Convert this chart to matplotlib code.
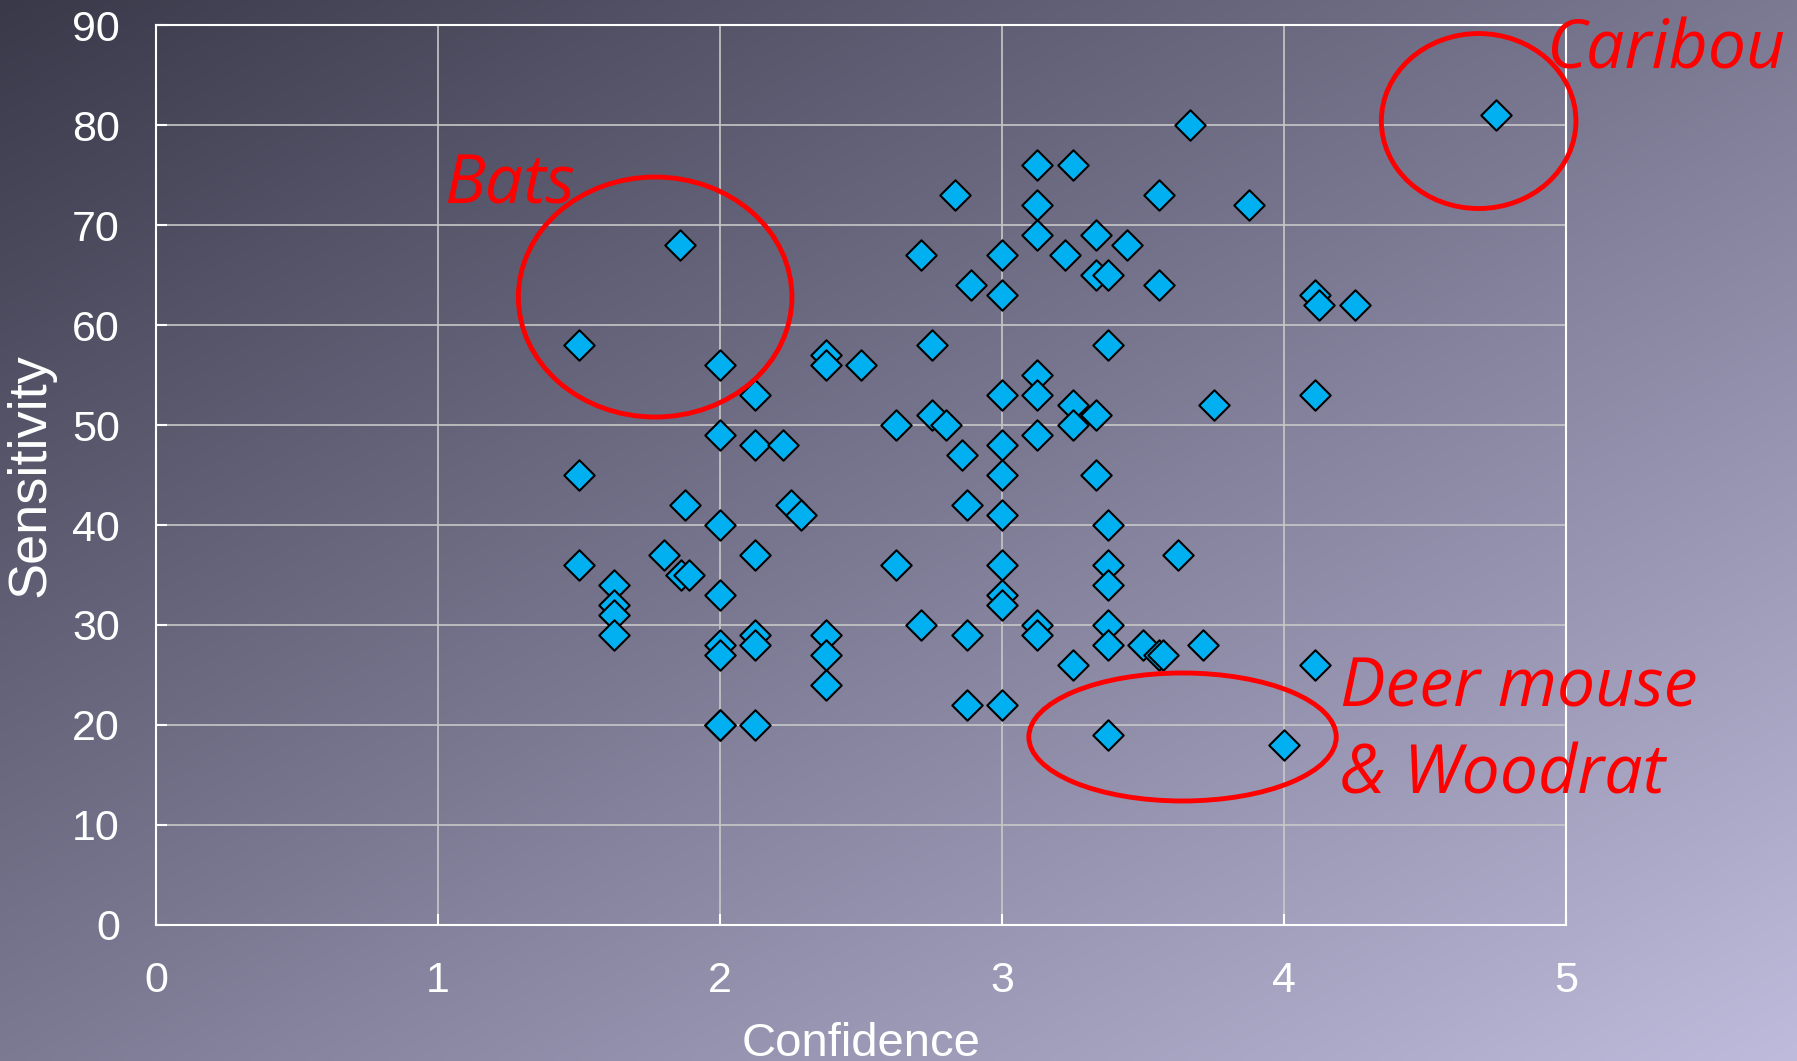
#Sensitivity vs confidence scatter with the red callouts
#values

import numpy as np
import matplotlib.pyplot as plt
from matplotlib.patches import Ellipse

#data points (confidence, sensitivity)
confidence = [1.5, 1.5, 1.5, 1.625, 1.625, 1.625, 1.625, 1.8, 1.857, 1.875,
              1.86, 1.89, 2.0, 2.0, 2.0, 2.0, 2.0, 2.0, 2.0, 2.0,
              2.125, 2.125, 2.125, 2.125, 2.125, 2.125, 2.222, 2.25, 2.286, 2.375,
              2.375, 2.375, 2.375, 2.375, 2.5, 2.625, 2.625, 2.714, 2.714, 2.75,
              2.75, 2.8, 2.833, 2.857, 2.875, 2.875, 2.875, 2.889, 3.0, 3.0,
              3.0, 3.0, 3.0, 3.0, 3.0, 3.0, 3.0, 3.0, 3.125, 3.125,
              3.125, 3.125, 3.125, 3.125, 3.125, 3.125, 3.222, 3.25, 3.25, 3.25,
              3.25, 3.333, 3.333, 3.333, 3.333, 3.375, 3.375, 3.375, 3.375, 3.375,
              3.375, 3.375, 3.375, 3.444, 3.5, 3.556, 3.556, 3.556, 3.57, 3.625,
              3.667, 3.714, 3.75, 3.875, 4.0, 4.111, 4.125, 4.111, 4.111, 4.25,
              4.75]
sensitivity = [58, 45, 36, 34, 32, 31, 29, 37, 68, 42,
               35, 35, 56, 49, 40, 33, 28, 27, 20, 20,
               53, 48, 37, 29, 28, 20, 48, 42, 41, 57,
               56, 29, 27, 24, 56, 50, 36, 67, 30, 58,
               51, 50, 73, 47, 42, 29, 22, 64, 67, 63,
               53, 48, 45, 41, 36, 33, 32, 22, 76, 72,
               69, 55, 53, 49, 30, 29, 67, 76, 52, 50,
               26, 69, 65, 51, 45, 65, 58, 40, 36, 34,
               30, 28, 19, 68, 28, 73, 64, 27, 27, 37,
               80, 28, 52, 72, 18, 63, 62, 53, 26, 62,
               81]

#callout labels and circles (center x, center y, width, height)
labels = ['Bats', 'Caribou', 'Deer mouse', '& Woodrat']
label_xy = [(1.02, 72.2), (4.93, 85.7), (4.2, 21.8), (4.2, 13.1)]
circles = [(1.77, 62.8, 0.97, 24.0), (4.69, 80.4, 0.69, 17.5), (3.64, 18.8, 1.09, 12.8)]

plt.rcParams['font.family'] = ['Liberation Sans', 'DejaVu Sans']

fig = plt.figure(figsize=(17.97, 10.61), dpi=100)

#diagonal gradient background over the whole slide
bg = fig.add_axes([0, 0, 1, 1], zorder=-10)
u = np.linspace(0, 1, 400)
v = np.linspace(0, 1, 240)
U, V = np.meshgrid(u, v)
t = (U + V) / 2
dark = np.array([0x3a, 0x39, 0x4a]) / 255
light = np.array([0xbe, 0xbb, 0xdc]) / 255
img = dark[None, None, :] * (1 - t[..., None]) + light[None, None, :] * t[..., None]
bg.imshow(img, aspect='auto', extent=[0, 1, 0, 1], interpolation='bilinear')
bg.axis('off')

ax = fig.add_axes([0.0868, 0.1282, 0.7847, 0.8482])
ax.patch.set_alpha(0)

ax.scatter(confidence, sensitivity, marker='D', s=240, c='#00b0f0',
           edgecolors='black', linewidths=1.5, zorder=3)

#red circles and italic text
for (cx, cy, w, h) in circles:
    ax.add_patch(Ellipse((cx, cy), w, h, fill=False, edgecolor='#ff0000',
                         linewidth=3.5, zorder=4, clip_on=False))
for text, (tx, ty) in zip(labels, label_xy):
    ax.text(tx, ty, text, color='#ff0000', fontsize=49, style='italic',
            family=['Open Sans', 'DejaVu Sans'], ha='left', va='baseline',
            clip_on=False, zorder=5)

#axes and grid
ax.set_xlim(0, 5)
ax.set_ylim(0, 90)
ax.set_xticks(range(0, 6))
ax.set_yticks(range(0, 91, 10))
ax.grid(True, color='#c8c8c8', linewidth=1.2)
ax.set_axisbelow(True)
for s in ax.spines.values():
    s.set_color('white')
    s.set_linewidth(1.5)
ax.tick_params(colors='white', labelsize=31, direction='in', length=8, width=1.5, pad=26)

ax.set_xlabel('Confidence', color='white', fontsize=34)
ax.set_ylabel('Sensitivity', color='white', fontsize=39)
ax.xaxis.set_label_coords(0.5, -0.108)
ax.yaxis.set_label_coords(-0.0716, 0.5)

plt.savefig('out.png', dpi=100)
